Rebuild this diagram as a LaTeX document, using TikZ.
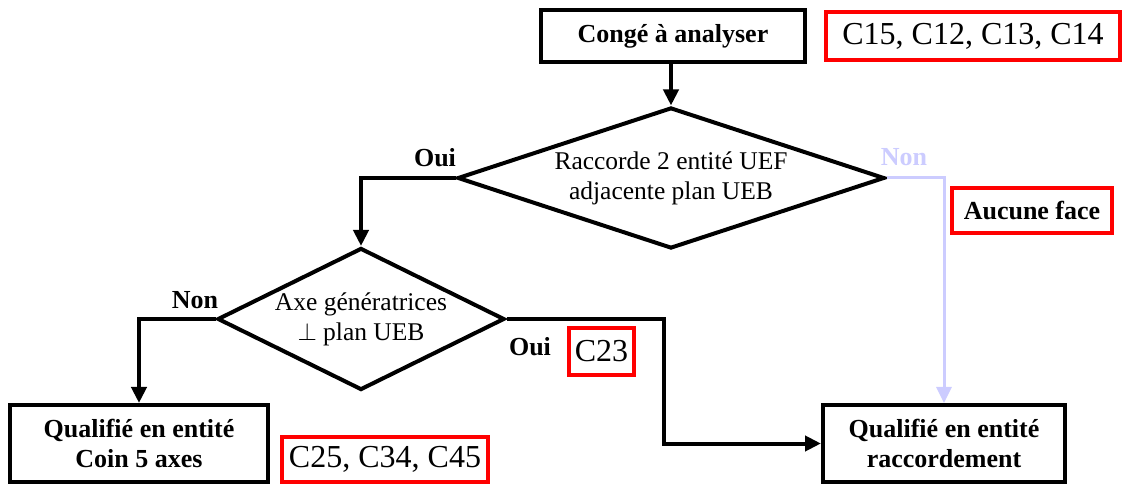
\documentclass[tikz,border=0pt]{standalone}
\usepackage{fontspec}
\setmainfont{Liberation Serif}
\usetikzlibrary{shapes.geometric, positioning, arrows.meta}

\definecolor{lightlav}{RGB}{204,204,255}

\begin{document}
\begin{tikzpicture}[
  x=1pt, y=-1pt,
  box/.style={rectangle, draw, line width=4pt, inner sep=0pt, align=center,
    font=\fontsize{26}{30}\selectfont\bfseries},
  redbox/.style={rectangle, draw=red, line width=3.5pt, inner sep=0pt, align=center},
  decision/.style={diamond, draw, line width=4pt, inner sep=0pt},
  dectext/.style={align=center, inner sep=0pt, font=\fontsize{25.5}{30}\selectfont},
  answer/.style={font=\fontsize{26}{30}\selectfont\bfseries},
  arr/.style={line width=4pt, -{Triangle[length=16pt, width=15pt]}},
  arrlight/.style={arr, draw=lightlav, line width=3pt, -{Triangle[length=16pt, width=15pt, fill=lightlav]}}
]
\useasboundingbox (0,0) rectangle (1125,486);

% -------------------------
% Boxes
% -------------------------

\node[box, minimum width=264pt, minimum height=52pt] (start) at (673,36) {Congé à analyser};
\node[box, minimum width=258pt, minimum height=77pt] (coin) at (139,443.5) {Qualifié en entité\\Coin 5 axes};
\node[box, minimum width=242pt, minimum height=77pt] (rac) at (944,443.5) {Qualifié en entité\\raccordement};

% -------------------------
% Decisions (text on top)
% -------------------------

\node[decision, minimum width=427pt, minimum height=141pt] (d1) at (671,178) {};
\node[dectext] (t1) at (d1) {Raccorde 2 entité UEF\\adjacente plan UEB};

\node[decision, minimum width=287pt, minimum height=142pt] (d2) at (361,319) {};
\node[dectext] (t2) at (d2) {Axe génératrices\\$\perp$ plan UEB};

% -------------------------
% Red reference boxes
% -------------------------

\node[redbox, minimum width=294pt, minimum height=48pt, font=\fontsize{32}{36}\selectfont] (r1) at (973,36) {C15, C12, C13, C14};
\node[redbox, minimum width=160pt, minimum height=45pt, font=\fontsize{26}{30}\selectfont\bfseries] (r2) at (1032,210.5) {Aucune face};
\node[redbox, minimum width=65pt, minimum height=47pt, font=\fontsize{32}{36}\selectfont] (r3) at (601.5,351.5) {C23};
\node[redbox, minimum width=206pt, minimum height=45pt, font=\fontsize{32}{36}\selectfont] (r4) at (385,459.5) {C25, C34, C45};

% -------------------------
% Connectors
% -------------------------

\coordinate (bend) at (664,319);

\draw[arr] (start.south -| d1.north) -- (d1.north);
\draw[arr] (d1.west) -| (d2.north);
\draw[arrlight] (d1.east) -| (rac.north);
\draw[arr] (d2.west) -| (coin.north);
\draw[arr] (d2.east) -- (bend) |- (rac.west);

% -------------------------
% Answers
% -------------------------

\node[answer] (oui1) at (435,158) {Oui};
\node[answer, text=lightlav] (non1) at (904,157) {Non};
\node[answer] (non2) at (195,300) {Non};
\node[answer] (oui2) at (530,347) {Oui};

\end{tikzpicture}
\end{document}
